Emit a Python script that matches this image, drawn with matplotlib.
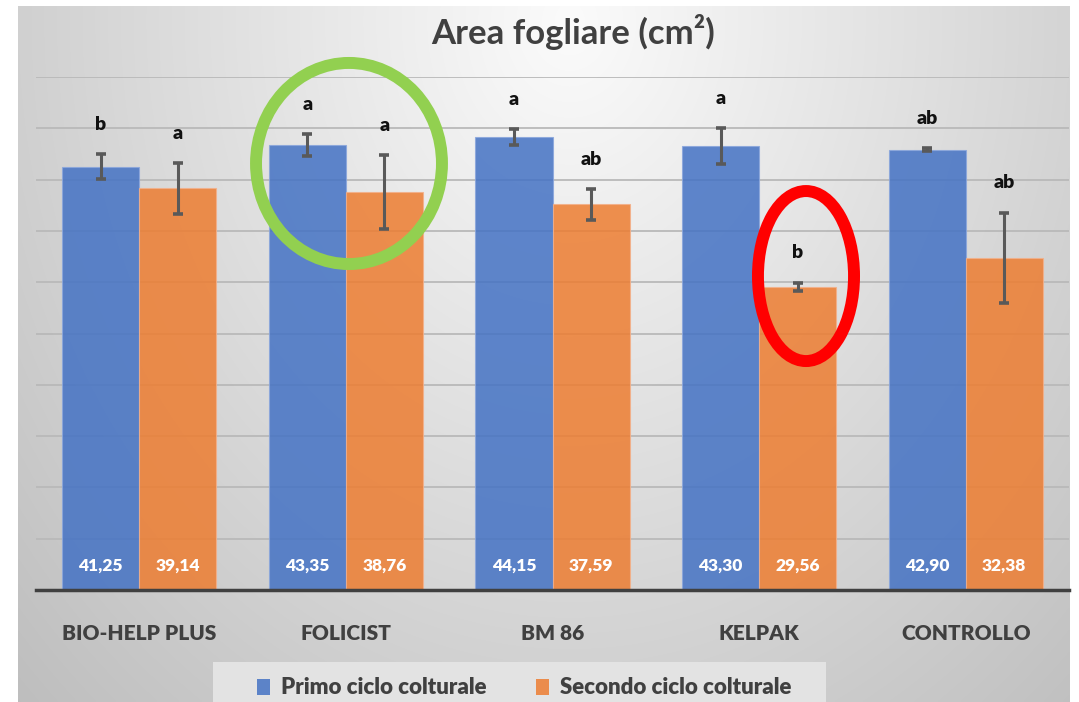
import numpy as np
import matplotlib
matplotlib.use('Agg')
import matplotlib.pyplot as plt
from matplotlib.patches import Ellipse, Patch, Rectangle

# ---- data ----
categories = ['BIO-HELP PLUS', 'FOLICIST', 'BM 86', 'KELPAK', 'CONTROLLO']
primo = [41.25, 43.35, 44.15, 43.30, 42.90]
secondo = [39.14, 38.76, 37.59, 29.56, 32.38]
primo_err = [1.22, 1.07, 0.80, 1.75, 0.15]
secondo_err = [2.50, 3.60, 1.50, 0.40, 4.40]
primo_letters = ['b', 'a', 'a', 'a', 'ab']
secondo_letters = ['a', 'a', 'ab', 'b', 'ab']
series_names = ['Primo ciclo colturale', 'Secondo ciclo colturale']
title = 'Area fogliare (cm²)'

plt.rcParams['font.family'] = ['Lato', 'DejaVu Sans']

W, H = 1079, 702
fig = plt.figure(figsize=(W / 100, H / 100), dpi=100)
fig.patch.set_facecolor('white')

# background gradient panel
bg = fig.add_axes([18 / W, 0, (1070 - 18) / W, (702 - 6) / H], zorder=-10)
xs = np.linspace(18, 1070, 400)
ys = np.linspace(6, 702, 260)
X, Y = np.meshgrid(xs, ys)
r = np.sqrt(((X - 570) / 620) ** 2 + ((Y - 20) / 760) ** 2)
v = np.clip(0.985 - 0.19 * r, 0, 1)
bg.imshow(np.dstack([v, v, v]), aspect='auto', interpolation='bilinear')
bg.axis('off')

ax = fig.add_axes([36 / W, 1 - 590 / H, (1069 - 36) / W, (590 - 77) / H])
ax.set_facecolor('none')
ax.set_xlim(-0.5, 4.5)
ax.set_ylim(0, 50)

x = np.arange(len(categories))
bw = 0.373
blue = '#4472C4'
orange = '#ED7D31'
xb = x - bw / 2
xo = x + bw / 2
ax.bar(xb, primo, bw, color=blue, alpha=0.85, edgecolor='#8aa6dc', linewidth=0.8, zorder=2)
ax.bar(xo, secondo, bw, color=orange, alpha=0.85, edgecolor='#f3b08a', linewidth=0.8, zorder=2)
ax.errorbar(xb, primo, yerr=primo_err, fmt='none', ecolor='#595959', elinewidth=2.2,
            capsize=3.6, capthick=2.6, zorder=3)
ax.errorbar(xo, secondo, yerr=secondo_err, fmt='none', ecolor='#595959', elinewidth=2.2,
            capsize=3.6, capthick=2.6, zorder=3)

for xi, val, e, let in zip(xb, primo, primo_err, primo_letters):
    ax.text(xi, 2.35, f'{val:.2f}'.replace('.', ','), ha='center', va='center',
            color='white', fontsize=12.5, fontweight='heavy', zorder=4)
    ax.text(xi, val + e + 2.9, let, ha='center', va='center', color='#111111',
            fontsize=14, fontweight='heavy', zorder=4)
for xi, val, e, let in zip(xo, secondo, secondo_err, secondo_letters):
    ax.text(xi, 2.35, f'{val:.2f}'.replace('.', ','), ha='center', va='center',
            color='white', fontsize=12.5, fontweight='heavy', zorder=4)
    ax.text(xi, val + e + 2.9, let, ha='center', va='center', color='#111111',
            fontsize=14, fontweight='heavy', zorder=4)

ax.set_yticks(np.arange(0, 55, 5))
ax.yaxis.grid(True, color='#b9b9b9', linewidth=1.3)
ax.set_axisbelow(True)
ax.tick_params(left=False, labelleft=False, bottom=False, pad=21)
ax.set_xticks(x)
ax.set_xticklabels(categories, fontsize=15, fontweight='heavy', color='#404040')
for s in ['left', 'right', 'top']:
    ax.spines[s].set_visible(False)
ax.spines['bottom'].set_color('#404040')
ax.spines['bottom'].set_linewidth(2.5)

# highlight circles
ax.add_patch(Ellipse((1.015, 41.57), 0.90, 19.6, fill=False, edgecolor='#92D050',
                     linewidth=8.6, clip_on=False, zorder=5))
ax.add_patch(Ellipse((3.227, 30.6), 0.465, 16.57, fill=False, edgecolor='#FF0000',
                     linewidth=8.6, clip_on=False, zorder=5))

fig.text(573 / W, 1 - 32 / H, title, ha='center', va='center', fontsize=25,
         fontweight='bold', color='#404040')

# legend
fig.patches.append(Rectangle((213 / W, 0), (826 - 213) / W, (702 - 662) / H,
                             transform=fig.transFigure, facecolor='#e3e3e3',
                             edgecolor='none', zorder=1))
handles = [Patch(facecolor=blue, alpha=0.85), Patch(facecolor=orange, alpha=0.85)]
leg = fig.legend(handles, series_names, loc='center', bbox_to_anchor=(524 / W, 1 - 688 / H),
                 ncol=2, frameon=False, prop=dict(weight='heavy', size=16),
                 labelcolor='#404040', handlelength=0.6, handleheight=0.7,
                 handletextpad=0.5, columnspacing=2.2)

fig.savefig('out.png', dpi=100)
